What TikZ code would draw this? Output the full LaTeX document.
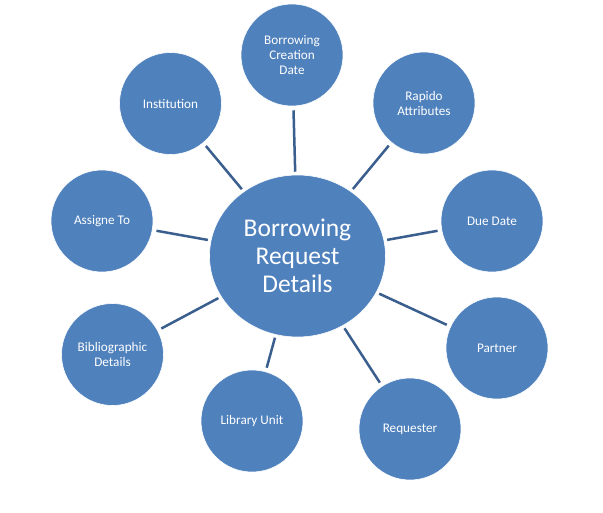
\documentclass[tikz,border=0pt]{standalone}
\usepackage{fontspec}
\setmainfont{Carlito}
\usetikzlibrary{shapes.geometric}
\definecolor{fillblue}{HTML}{4F81BD}
\definecolor{lineblue}{HTML}{3A5F8E}
\begin{document}
\begin{tikzpicture}[x=1pt,y=-1pt,
  outer/.style={circle, fill=fillblue, draw=white, line width=0.6pt, minimum size=102pt, inner sep=0pt,
    text=white, align=center, font=\fontsize{13.2}{15}\selectfont},
  hub/.style={ellipse, fill=fillblue, draw=white, line width=0.6pt, minimum width=176pt, minimum height=162pt, inner sep=0pt,
    text=white, align=center, font=\fontsize{25.5}{28}\selectfont},
  link/.style={draw=lineblue, line width=2.5pt, shorten >=4pt, shorten <=3pt}]
\useasboundingbox (0,0) rectangle (603,512);
\fill[white] (0,0) rectangle (603,512);
\node[hub] (c) at (297.5,256) {Borrowing\\Request\\Details};
\node[outer] (bcd) at (292,55) {Borrowing\\Creation\\Date};
\node[outer] (inst) at (170.5,103.5) {Institution};
\node[outer] (rap) at (424,103) {Rapido\\Attributes};
\node[outer] (due) at (492,221) {Due Date};
\node[outer] (part) at (497,348) {Partner};
\node[outer] (req) at (410,429) {Requester};
\node[outer] (lib) at (252,421) {Library Unit};
\node[outer] (bib) at (112.5,354.5) {Bibliographic\\Details};
\node[outer] (asg) at (102,221) {Assigne To};
\foreach \n in {bcd,inst,rap,due,part,req,lib,bib,asg}
  \draw[link] (c) -- (\n);
\end{tikzpicture}
\end{document}
